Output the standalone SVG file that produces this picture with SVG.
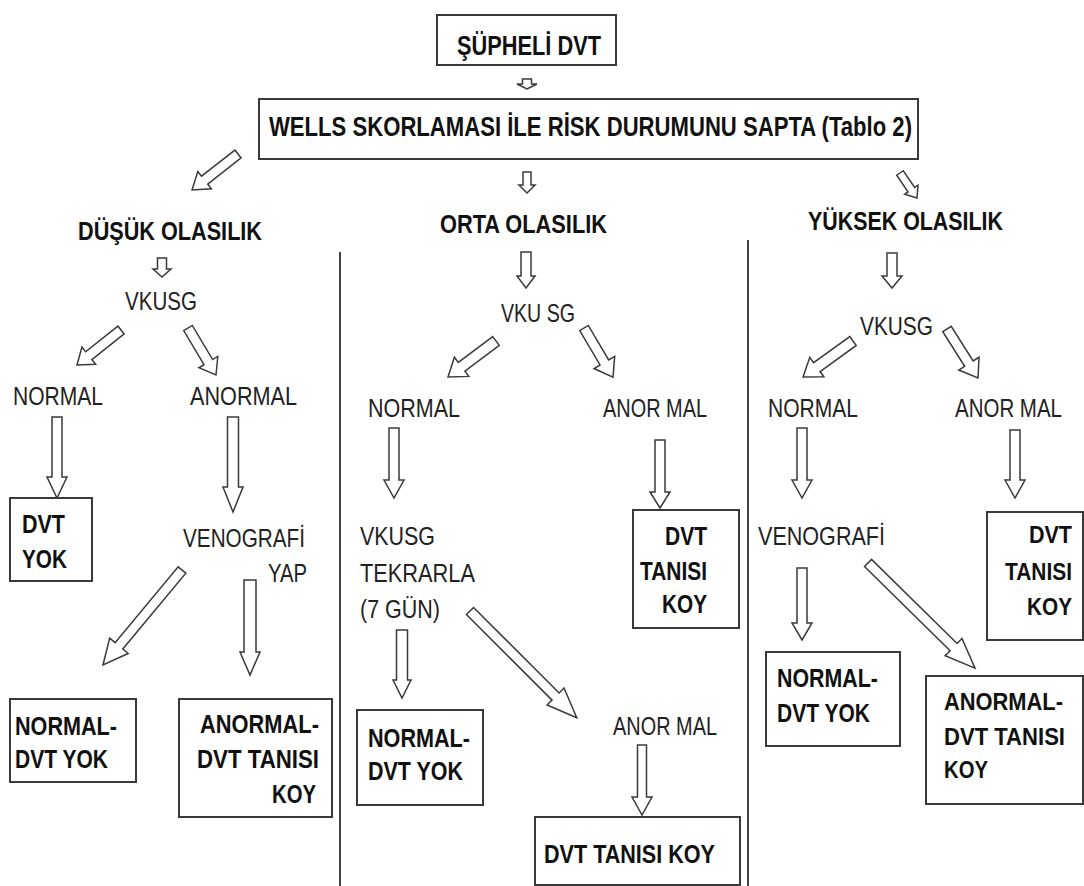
<svg xmlns="http://www.w3.org/2000/svg" width="1084" height="886" viewBox="0 0 1084 886">
<style>
text{font-family:"Liberation Sans Narrow","Liberation Sans",Arial,sans-serif;}
.b{font-weight:bold;font-size:26px;fill:#111;}
.s{font-size:23.5px;}
.t{font-weight:bold;font-size:27px;fill:#111;}
.n{font-weight:normal;font-size:25px;fill:#222;}
.box{fill:#fff;stroke:#3a3a3a;stroke-width:2;}
.arr{fill:#fff;stroke:#3a3a3a;stroke-width:1.5;stroke-linejoin:miter;}
.sep{stroke:#444;stroke-width:2;}
</style>
<rect width="1084" height="886" fill="#fff"/>

<g id="separators">
<line class="sep" x1="340" y1="252" x2="340" y2="886"/>
<line class="sep" x1="748" y1="240" x2="748" y2="886"/>
</g>

<g id="connectors">
<path class="arr" transform="translate(527,79)" d="M-4.5 0H4.5V5H10L0 10L-10 5H-4.5Z"/>
<path class="arr" transform="translate(238,154) rotate(51.95)" d="M-5 0H5V42.4H11L0 58.4L-11 42.4H-5Z"/>
<path class="arr" transform="translate(527,172)" d="M-4 0H4V13H8L0 21L-8 13H-4Z"/>
<path class="arr" transform="translate(900,173) rotate(-34.2)" d="M-4 0H4V20.2H8L0 30.2L-8 20.2H-4Z"/>
<path class="arr" transform="translate(162,258)" d="M-4.5 0H4.5V11H9L0 19L-9 11H-4.5Z"/>
<path class="arr" transform="translate(121,330) rotate(51.5)" d="M-5 0H5V41.2H11L0 56.2L-11 41.2H-5Z"/>
<path class="arr" transform="translate(188,328) rotate(-30.8)" d="M-5 0H5V39.7H11L0 54.7L-11 39.7H-5Z"/>
<path class="arr" transform="translate(57,417)" d="M-5 0H5V60H10L0 81L-10 60H-5Z"/>
<path class="arr" transform="translate(233,417)" d="M-5.5 0H5.5V70H10L0 95L-10 70H-5.5Z"/>
<path class="arr" transform="translate(182,570) rotate(39.75)" d="M-5 0H5V98.6H12L0 123.6L-12 98.6H-5Z"/>
<path class="arr" transform="translate(250,580)" d="M-6 0H6V72H10L0 95L-10 72H-6Z"/>
<path class="arr" transform="translate(526,252)" d="M-5 0H5V24H9L0 36L-9 24H-5Z"/>
<path class="arr" transform="translate(496,341) rotate(53.1)" d="M-5.5 0H5.5V43H12L0 60L-12 43H-5.5Z"/>
<path class="arr" transform="translate(584,328) rotate(-30.6)" d="M-5 0H5V40H12L0 57L-12 40H-5Z"/>
<path class="arr" transform="translate(394,428)" d="M-5 0H5V52H10L0 70L-10 52H-5Z"/>
<path class="arr" transform="translate(660,440)" d="M-5 0H5V52H10L0 68L-10 52H-5Z"/>
<path class="arr" transform="translate(402,630)" d="M-5.5 0H5.5V50H9L0 68L-9 50H-5.5Z"/>
<path class="arr" transform="translate(470,611) rotate(-45)" d="M-5 0H5V121H12L0 151L-12 121H-5Z"/>
<path class="arr" transform="translate(642,745)" d="M-4.5 0H4.5V52H10L0 70L-10 52H-4.5Z"/>
<path class="arr" transform="translate(892,253)" d="M-5 0H5V23H10L0 35L-10 23H-5Z"/>
<path class="arr" transform="translate(853,341) rotate(54.2)" d="M-5.5 0H5.5V44.6H12L0 61.6L-12 44.6H-5.5Z"/>
<path class="arr" transform="translate(947,329) rotate(-32.3)" d="M-5 0H5V41H12L0 58L-12 41H-5Z"/>
<path class="arr" transform="translate(802,428)" d="M-5 0H5V52H10L0 70L-10 52H-5Z"/>
<path class="arr" transform="translate(1015,430)" d="M-5 0H5V50H10L0 68L-10 50H-5Z"/>
<path class="arr" transform="translate(802,568)" d="M-5 0H5V55H10L0 72L-10 55H-5Z"/>
<path class="arr" transform="translate(868,563) rotate(-45.5)" d="M-5 0H5V120H12L0 150L-12 120H-5Z"/>
</g>

<g id="n-suspected">
<rect class="box" x="437" y="15" width="179" height="50"/>
<text class="t" x="457" y="55" textLength="144" lengthAdjust="spacingAndGlyphs">ŞÜPHELİ DVT</text>
</g>
<g id="n-wells">
<rect class="box" x="259" y="99" width="659" height="60"/>
<text class="t" x="269" y="136" textLength="643" lengthAdjust="spacingAndGlyphs">WELLS SKORLAMASI İLE RİSK DURUMUNU SAPTA (Tablo 2)</text>
</g>

<g id="n-low"><text class="b" x="78" y="240" textLength="184" lengthAdjust="spacingAndGlyphs">DÜŞÜK OLASILIK</text></g>
<g id="n-mid"><text class="b" x="440" y="233" textLength="167" lengthAdjust="spacingAndGlyphs">ORTA OLASILIK</text></g>
<g id="n-high"><text class="b" x="808" y="230" textLength="195" lengthAdjust="spacingAndGlyphs">YÜKSEK OLASILIK</text></g>

<g id="l-vkusg"><text class="n" x="125" y="310" textLength="72" lengthAdjust="spacingAndGlyphs">VKUSG</text></g>
<g id="l-normal"><text class="n" x="13" y="405" textLength="90" lengthAdjust="spacingAndGlyphs">NORMAL</text></g>
<g id="l-anormal"><text class="n" x="190" y="405" textLength="107" lengthAdjust="spacingAndGlyphs">ANORMAL</text></g>
<g id="l-dvtyok">
<rect class="box" x="10" y="498" width="82" height="83"/>
<text class="b" x="22" y="533" textLength="43" lengthAdjust="spacingAndGlyphs">DVT</text>
<text class="b" x="22" y="568" textLength="45" lengthAdjust="spacingAndGlyphs">YOK</text>
</g>
<g id="l-veno">
<text class="n" x="183" y="547" textLength="122" lengthAdjust="spacingAndGlyphs">VENOGRAFİ</text>
<text class="n" x="268" y="582" textLength="39" lengthAdjust="spacingAndGlyphs">YAP</text>
</g>
<g id="l-normal-yok">
<rect class="box" x="10" y="699" width="126" height="83"/>
<text class="b" x="15" y="735" textLength="102" lengthAdjust="spacingAndGlyphs">NORMAL-</text>
<text class="b" x="15" y="768" textLength="93" lengthAdjust="spacingAndGlyphs">DVT YOK</text>
</g>
<g id="l-anormal-koy">
<rect class="box" x="179" y="699" width="153" height="118"/>
<text class="b" x="200" y="733" textLength="119" lengthAdjust="spacingAndGlyphs">ANORMAL-</text>
<text class="b" x="197" y="768" textLength="122" lengthAdjust="spacingAndGlyphs">DVT TANISI</text>
<text class="b" x="272" y="803" textLength="44" lengthAdjust="spacingAndGlyphs">KOY</text>
</g>

<g id="m-vkusg"><text class="n" x="501" y="322" textLength="74" lengthAdjust="spacingAndGlyphs">VKU SG</text></g>
<g id="m-normal"><text class="n" x="368" y="417" textLength="92" lengthAdjust="spacingAndGlyphs">NORMAL</text></g>
<g id="m-anormal"><text class="n" x="603" y="417" textLength="104" lengthAdjust="spacingAndGlyphs">ANOR MAL</text></g>
<g id="m-repeat">
<text class="n" x="360" y="545" textLength="75" lengthAdjust="spacingAndGlyphs">VKUSG</text>
<text class="n" x="360" y="582" textLength="115" lengthAdjust="spacingAndGlyphs">TEKRARLA</text>
<text class="n" x="360" y="618" textLength="80" lengthAdjust="spacingAndGlyphs">(7 GÜN)</text>
</g>
<g id="m-koy">
<rect class="box" x="633" y="510" width="106" height="118"/>
<text class="b" x="665" y="545" textLength="42" lengthAdjust="spacingAndGlyphs">DVT</text>
<text class="b" x="640" y="580" textLength="67" lengthAdjust="spacingAndGlyphs">TANISI</text>
<text class="b" x="662" y="613" textLength="45" lengthAdjust="spacingAndGlyphs">KOY</text>
</g>
<g id="m-normal-yok">
<rect class="box" x="357" y="710" width="126" height="95"/>
<text class="b" x="368" y="747" textLength="102" lengthAdjust="spacingAndGlyphs">NORMAL-</text>
<text class="b" x="368" y="780" textLength="95" lengthAdjust="spacingAndGlyphs">DVT YOK</text>
</g>
<g id="m-anormal2"><text class="n" x="613" y="735" textLength="104" lengthAdjust="spacingAndGlyphs">ANOR MAL</text></g>
<g id="m-koy2">
<rect class="box" x="535" y="817" width="205" height="68"/>
<text class="b" x="544" y="863" textLength="171" lengthAdjust="spacingAndGlyphs">DVT TANISI KOY</text>
</g>

<g id="r-vkusg"><text class="n" x="860" y="335" textLength="73" lengthAdjust="spacingAndGlyphs">VKUSG</text></g>
<g id="r-normal"><text class="n" x="768" y="417" textLength="90" lengthAdjust="spacingAndGlyphs">NORMAL</text></g>
<g id="r-anormal"><text class="n" x="955" y="417" textLength="107" lengthAdjust="spacingAndGlyphs">ANOR MAL</text></g>
<g id="r-koy">
<rect class="box" x="987" y="512" width="96" height="128"/>
<text class="b s" x="1029" y="543" textLength="43" lengthAdjust="spacingAndGlyphs">DVT</text>
<text class="b s" x="1005" y="580" textLength="67" lengthAdjust="spacingAndGlyphs">TANISI</text>
<text class="b s" x="1027" y="615" textLength="45" lengthAdjust="spacingAndGlyphs">KOY</text>
</g>
<g id="r-veno"><text class="n" x="758" y="545" textLength="127" lengthAdjust="spacingAndGlyphs">VENOGRAFİ</text></g>
<g id="r-normal-yok">
<rect class="box" x="766" y="652" width="134" height="94"/>
<text class="b" x="777" y="687" textLength="101" lengthAdjust="spacingAndGlyphs">NORMAL-</text>
<text class="b" x="777" y="722" textLength="93" lengthAdjust="spacingAndGlyphs">DVT YOK</text>
</g>
<g id="r-anormal-koy">
<rect class="box" x="926" y="676" width="157" height="128"/>
<text class="b s" x="944" y="710" textLength="119" lengthAdjust="spacingAndGlyphs">ANORMAL-</text>
<text class="b s" x="944" y="745" textLength="121" lengthAdjust="spacingAndGlyphs">DVT TANISI</text>
<text class="b s" x="944" y="778" textLength="44" lengthAdjust="spacingAndGlyphs">KOY</text>
</g>
</svg>
